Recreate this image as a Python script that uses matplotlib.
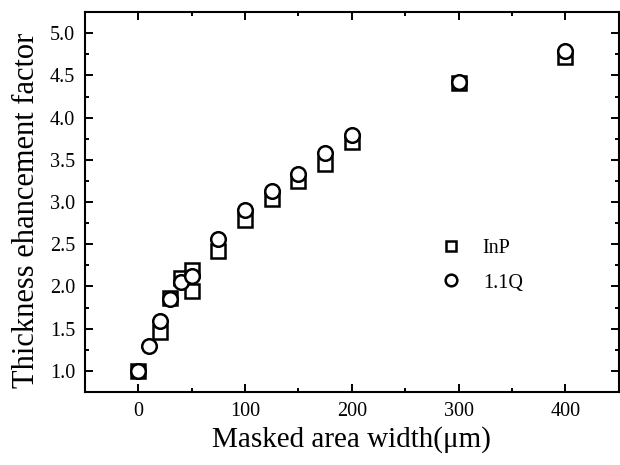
import numpy as np
import matplotlib.pyplot as plt
from matplotlib.ticker import MultipleLocator, FormatStrFormatter

plt.rcParams.update({
    "font.family": "serif",
    "font.serif": ["Liberation Serif", "DejaVu Serif"],
    "mathtext.fontset": "stix",
})

# data
inp_width = [0, 20, 30, 40, 50, 50, 75, 100, 125, 150, 175, 200, 300, 400]
inp_factor = [1.00, 1.46, 1.86, 2.10, 2.20, 1.95, 2.42, 2.79, 3.04, 3.25, 3.45, 3.71, 4.41, 4.72]

q_width = [0, 10, 20, 30, 40, 50, 75, 100, 125, 150, 175, 200, 300, 400]
q_factor = [1.00, 1.30, 1.59, 1.85, 2.05, 2.12, 2.56, 2.90, 3.13, 3.33, 3.58, 3.79, 4.42, 4.79]

series_labels = ["InP", "1.1Q"]

fig = plt.figure(figsize=(6.2, 4.65), dpi=100)
ax = fig.add_axes([0.137, 0.157, 0.861, 0.817])

ax.plot(inp_width, inp_factor, linestyle="none", marker="s", markersize=9.8,
        markerfacecolor="white", markeredgecolor="black", markeredgewidth=1.8,
        label=series_labels[0])
ax.plot(q_width, q_factor, linestyle="none", marker="o", markersize=10.5,
        markerfacecolor="white", markeredgecolor="black", markeredgewidth=1.8,
        label=series_labels[1])

ax.set_xlim(-50, 450)
ax.set_ylim(0.75, 5.25)
ax.xaxis.set_major_locator(MultipleLocator(100))
ax.xaxis.set_minor_locator(MultipleLocator(50))
ax.yaxis.set_major_locator(MultipleLocator(0.5))
ax.yaxis.set_minor_locator(MultipleLocator(0.25))
ax.yaxis.set_major_formatter(FormatStrFormatter("%.1f"))

ax.tick_params(which="both", direction="in", top=True, right=True, width=1.4)
ax.tick_params(which="major", length=6, labelsize=14.5, pad=7)
ax.tick_params(which="minor", length=3)
for s in ax.spines.values():
    s.set_linewidth(1.5)

ax.set_xlabel("Masked area width(\u03bcm)", fontsize=21, labelpad=4)
ax.set_ylabel("Thickness ehancement factor", fontsize=22)
ax.yaxis.set_label_coords(-0.083, 0.479)

ax.legend(loc="center left", bbox_to_anchor=(0.632, 0.332), frameon=False,
          fontsize=14.5, markerscale=0.8, handletextpad=1.1, labelspacing=0.75,
          handlelength=1.0)

fig.savefig("out.png", dpi=100)
